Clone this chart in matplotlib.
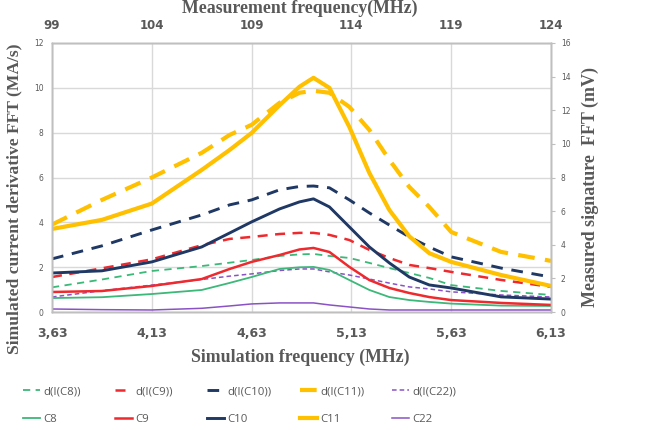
import matplotlib
matplotlib.use("Agg")
import matplotlib.pyplot as plt
from matplotlib.lines import Line2D

# simulation frequency (MHz), shared by every series
freq = [3.63, 3.88, 4.13, 4.38, 4.52, 4.63, 4.77, 4.87, 4.94, 5.02,
        5.12, 5.22, 5.32, 5.42, 5.52, 5.63, 5.88, 6.13]

# simulated current derivative FFT (MA/s), left axis
d_c8 = [1.10, 1.45, 1.83, 2.05, 2.20, 2.32, 2.50, 2.57, 2.59, 2.50,
        2.41, 2.19, 1.96, 1.74, 1.52, 1.20, 0.94, 0.76]
d_c9 = [1.56, 1.95, 2.35, 2.98, 3.26, 3.35, 3.48, 3.53, 3.53, 3.44,
        3.21, 2.77, 2.41, 2.10, 1.96, 1.79, 1.43, 1.12]
d_c10 = [2.37, 2.95, 3.66, 4.33, 4.78, 5.00, 5.45, 5.60, 5.62, 5.54,
         5.00, 4.42, 3.88, 3.35, 2.90, 2.46, 1.96, 1.56]
d_c11 = [3.90, 5.00, 6.00, 7.10, 7.90, 8.35, 9.33, 9.78, 9.87, 9.78,
         9.15, 8.12, 6.79, 5.58, 4.69, 3.57, 2.68, 2.28]
d_c22 = [0.67, 0.95, 1.20, 1.45, 1.60, 1.70, 1.85, 1.92, 1.92, 1.79,
         1.65, 1.47, 1.29, 1.12, 1.03, 0.90, 0.76, 0.67]

# measured signature FFT (mV), right axis
c8 = [0.83, 0.88, 1.07, 1.31, 1.73, 2.08, 2.56, 2.66, 2.68, 2.50,
      1.90, 1.31, 0.89, 0.71, 0.60, 0.50, 0.38, 0.36]
c9 = [1.19, 1.25, 1.55, 1.96, 2.56, 2.98, 3.39, 3.72, 3.81, 3.57,
      2.68, 1.90, 1.43, 1.13, 0.89, 0.71, 0.54, 0.42]
c10 = [2.32, 2.45, 2.98, 3.87, 4.70, 5.36, 6.13, 6.55, 6.73, 6.25,
       5.06, 3.87, 2.92, 2.08, 1.61, 1.43, 0.90, 0.77]
c11 = [4.94, 5.48, 6.45, 8.45, 9.64, 10.65, 12.30, 13.40, 13.93, 13.33,
       11.00, 8.27, 6.07, 4.50, 3.50, 2.98, 2.20, 1.55]
c22 = [0.18, 0.14, 0.12, 0.22, 0.36, 0.48, 0.54, 0.54, 0.54, 0.42,
       0.30, 0.18, 0.12, 0.12, 0.12, 0.12, 0.12, 0.12]

sim_ticks = [3.63, 4.13, 4.63, 5.13, 5.63, 6.13]
sim_labels = ["3,63", "4,13", "4,63", "5,13", "5,63", "6,13"]
meas_ticks = [99, 104, 109, 114, 119, 124]

GREEN = "#3cb878"
RED = "#ee2a2e"
NAVY = "#1f3864"
GOLD = "#ffc000"
PURPLE = "#8a52c4"
GREY = "#595959"

# (colour, line width, dash pattern) for each capacitor
styles = {
    "C8": (GREEN, 1.3, (0, (4, 3))),
    "C9": (RED, 1.8, (0, (4, 3))),
    "C10": (NAVY, 2.1, (0, (4, 3))),
    "C11": (GOLD, 3.0, (0, (4, 2.5))),
    "C22": (PURPLE, 1.1, (0, (3, 2))),
}
sim_series = {"C8": d_c8, "C9": d_c9, "C10": d_c10, "C11": d_c11, "C22": d_c22}
meas_series = {"C8": c8, "C9": c9, "C10": c10, "C11": c11, "C22": c22}

fig = plt.figure(figsize=(6.47, 4.30), dpi=100)
ax = fig.add_axes([0.0804, 0.2744, 0.7712, 0.6256])
ax2 = ax.twinx()
ax3 = ax.twiny()

for name, (col, lw, dash) in styles.items():
    # dashed = simulation (left axis), solid = measurement (right axis)
    ax.plot(freq, sim_series[name], color=col, lw=lw, ls=dash)
    ax2.plot(freq, meas_series[name], color=col, lw=lw)

ax.set_xlim(3.63, 6.13)
ax.set_ylim(0, 12)
ax.set_yticks(range(0, 13, 2))
ax2.set_ylim(0, 16)
ax2.set_yticks(range(0, 17, 2))
ax3.set_xlim(99, 124)
ax3.set_xticks(meas_ticks)

ax.set_xticks(sim_ticks)
ax.set_xticklabels(sim_labels)
ax.grid(True, color="#d9d9d9", lw=1)
ax.set_axisbelow(True)

for a in (ax, ax2, ax3):
    for s in a.spines.values():
        s.set_color("#bfbfbf")
        s.set_linewidth(1)

ax.tick_params(axis="x", length=0, pad=11, labelsize=9, labelcolor=GREY)
ax.tick_params(axis="y", length=0, pad=6, labelsize=5.5, labelcolor=GREY)
for t in ax.get_xticklabels():
    t.set_fontweight("bold")
ax2.tick_params(axis="y", length=3, color="#bfbfbf", pad=4,
                labelsize=5.5, labelcolor=GREY)
ax3.tick_params(axis="x", length=0, pad=8, labelsize=8.5, labelcolor=GREY)
for t in ax3.get_xticklabels():
    t.set_fontweight("bold")

serif = dict(family="Liberation Serif", weight="bold", color=GREY,
             ha="center", va="center")
fig.text(0.4636, 0.981, "Measurement frequency(MHz)", fontsize=12.8, **serif)
fig.text(0.4636, 0.170, "Simulation frequency (MHz)", fontsize=12.8, **serif)
fig.text(0.0216, 0.537, "Simulated current derivative FFT (MA/s)",
         fontsize=12.6, rotation=90, **serif)
fig.text(0.912, 0.565, "Measured signature  FFT (mV)", fontsize=13,
         rotation=90, **serif)

# legend: one small legend per column, dashed entry on top, solid below
col_x = [23, 115, 207, 300, 392]
for x0, (name, (col, lw, dash)) in zip(col_x, styles.items()):
    h = [Line2D([], [], color=col, lw=lw, ls=dash),
         Line2D([], [], color=col, lw=lw)]
    lab = ["d(I(%s))" % name, name]
    leg = fig.legend(h, lab, loc="upper left",
                     bbox_to_anchor=(x0 / 647, 1 - 386 / 430),
                     frameon=False, borderpad=0, borderaxespad=0,
                     handlelength=1.5, handletextpad=0.3, labelspacing=1.5,
                     prop=dict(family="Open Sans", size=8.2))
    for t in leg.get_texts():
        t.set_color(GREY)

fig.savefig("out.png", dpi=100)
